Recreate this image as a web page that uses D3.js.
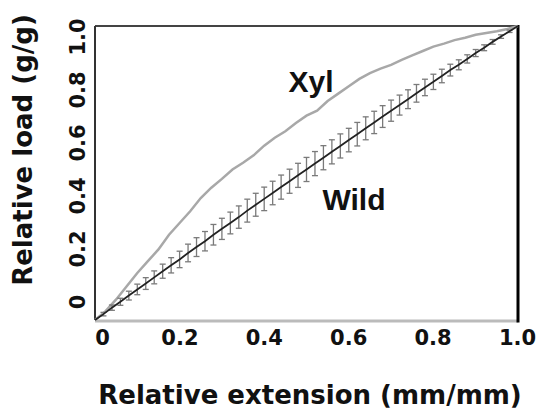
<!DOCTYPE html>
<html><head><meta charset="utf-8">
<script src="https://cdn.jsdelivr.net/npm/d3@7/dist/d3.min.js"></script>
<style>body{margin:0;background:#fff}svg{display:block}</style>
</head><body>
<script>
const xTicks = [0, 0.2, 0.4, 0.6, 0.8, 1.0];
const xTickLabels = ["0", "0.2", "0.4", "0.6", "0.8", "1.0"];
const yTicks = [0, 0.2, 0.4, 0.6, 0.8, 1.0];
const yTickLabels = ["0", "0.2", "0.4", "0.6", "0.8", "1.0"];

const xylX = [0,0.025,0.05,0.075,0.1,0.125,0.15,0.175,0.2,0.225,0.25,0.275,0.3,0.325,0.35,0.375,0.4,0.425,0.45,0.475,0.5,0.525,0.55,0.575,0.6,0.625,0.65,0.675,0.7,0.725,0.75,0.775,0.8,0.825,0.85,0.875,0.9,0.925,0.95,0.975,1.0];
const xylY = [0,0.03,0.07,0.115,0.16,0.2,0.24,0.29,0.33,0.37,0.415,0.45,0.48,0.512,0.535,0.56,0.593,0.62,0.642,0.67,0.695,0.712,0.745,0.77,0.795,0.82,0.84,0.855,0.868,0.885,0.9,0.915,0.93,0.94,0.952,0.96,0.97,0.976,0.982,0.99,1.0];

const wildX = [0,0.02,0.04,0.06,0.08,0.1,0.12,0.14,0.16,0.18,0.2,0.22,0.24,0.26,0.28,0.3,0.32,0.34,0.36,0.38,0.4,0.42,0.44,0.46,0.48,0.5,0.52,0.54,0.56,0.58,0.6,0.62,0.64,0.66,0.68,0.7,0.72,0.74,0.76,0.78,0.8,0.82,0.84,0.86,0.88,0.9,0.92,0.94,0.96,0.98,1.0];
const wildY = [0,0.02,0.042,0.062,0.083,0.104,0.124,0.145,0.166,0.186,0.206,0.228,0.248,0.268,0.29,0.31,0.33,0.35,0.372,0.392,0.412,0.432,0.452,0.472,0.492,0.512,0.532,0.552,0.572,0.592,0.612,0.632,0.652,0.672,0.692,0.712,0.731,0.751,0.771,0.791,0.81,0.83,0.85,0.868,0.888,0.908,0.926,0.946,0.964,0.982,1.0];
const wildErr = [0,0.006,0.009,0.012,0.015,0.018,0.02,0.022,0.024,0.026,0.028,0.03,0.032,0.033,0.035,0.036,0.037,0.038,0.039,0.039,0.04,0.04,0.041,0.041,0.041,0.041,0.041,0.041,0.041,0.041,0.04,0.04,0.039,0.038,0.037,0.036,0.034,0.032,0.03,0.028,0.026,0.023,0.02,0.017,0.014,0.012,0.01,0.008,0.006,0.004,0];

const W = 541, H = 409;
const svg = d3.select("body").append("svg").attr("width", W).attr("height", H);

const x = d3.scaleLinear().domain([0, 1]).range([95, 518]);
const y = d3.scaleLinear().domain([0, 1]).range([320, 26]);
// tick label positions as drawn in the original figure
const xLab = d3.scaleLinear().domain([0, 1]).range([95, 517]);
const yLab = d3.scaleLinear().domain([0, 1]).range([302, 37]);

// frame
const fr = svg.append("g");
fr.append("line").attr("x1", x(0)).attr("x2", x(1)).attr("y1", y(1)).attr("y2", y(1)).attr("stroke", "#444").attr("stroke-width", 2);
fr.append("line").attr("x1", x(0)).attr("x2", x(0)).attr("y1", y(1)).attr("y2", y(0)).attr("stroke", "#333").attr("stroke-width", 2);
fr.append("line").attr("x1", x(0)).attr("x2", x(1)).attr("y1", y(0)+1).attr("y2", y(0)+1).attr("stroke", "#bbb").attr("stroke-width", 3);
fr.append("line").attr("x1", x(1)).attr("x2", x(1)).attr("y1", y(1)-1).attr("y2", y(0)+2.5).attr("stroke", "#000").attr("stroke-width", 3);

// x tick labels
const xa = svg.append("g").attr("transform", "translate(0,330)")
  .call(d3.axisBottom(xLab).tickValues(xTicks).tickFormat((d, i) => xTickLabels[i]).tickSize(0).tickPadding(0));
xa.select(".domain").remove();
xa.selectAll("text").attr("font-family", "DejaVu Sans").attr("font-weight", "bold").attr("font-size", 21).attr("fill", "#111")
  .attr("dx", (d, i) => i === 0 ? 7 : 0);

// y tick labels (rotated)
yTicks.forEach((d, i) => {
  svg.append("text").attr("transform", `translate(78,${yLab(d)}) rotate(-90)`)
    .attr("text-anchor", "middle").attr("dominant-baseline", "central")
    .attr("font-family", "DejaVu Sans").attr("font-weight", "bold").attr("font-size", 21).attr("fill", "#111")
    .text(yTickLabels[i]);
});

// titles
svg.append("text").attr("x", 310).attr("y", 404).attr("text-anchor", "middle")
  .attr("font-family", "DejaVu Sans").attr("font-weight", "bold").attr("font-size", 26).attr("fill", "#111")
  .text("Relative extension (mm/mm)");
svg.append("text").attr("transform", "translate(23,150) rotate(-90)").attr("text-anchor", "middle").attr("dominant-baseline", "central")
  .attr("font-family", "DejaVu Sans").attr("font-weight", "bold").attr("font-size", 26).attr("fill", "#111")
  .text("Relative load (g/g)");

// Xyl curve
const xyl = xylX.map((v, i) => [v, xylY[i]]);
svg.append("path").datum(xyl).attr("fill", "none").attr("stroke", "#a8a8a8").attr("stroke-width", 2.5)
  .attr("d", d3.line().x(d => x(d[0])).y(d => y(d[1])));

// Wild error bars
const wild = wildX.map((v, i) => ({x: v, y: wildY[i], e: wildErr[i]}));
const eb = svg.append("g").attr("stroke", "#7a7a7a").attr("stroke-width", 1.3);
wild.filter(d => d.e > 0).forEach(d => {
  const cx = x(d.x);
  eb.append("line").attr("x1", cx).attr("x2", cx).attr("y1", y(d.y - d.e)).attr("y2", y(d.y + d.e));
  eb.append("line").attr("x1", cx - 3).attr("x2", cx + 3).attr("y1", y(d.y - d.e)).attr("y2", y(d.y - d.e));
  eb.append("line").attr("x1", cx - 3).attr("x2", cx + 3).attr("y1", y(d.y + d.e)).attr("y2", y(d.y + d.e));
});
svg.append("path").datum(wild).attr("fill", "none").attr("stroke", "#222").attr("stroke-width", 1.8)
  .attr("d", d3.line().x(d => x(d.x)).y(d => y(d.y)));

// labels
svg.append("text").attr("x", 311).attr("y", 92).attr("text-anchor", "middle")
  .attr("font-family", "Liberation Sans").attr("font-weight", "bold").attr("font-size", 30).attr("fill", "#111").text("Xyl");
svg.append("text").attr("x", 354).attr("y", 210).attr("text-anchor", "middle")
  .attr("font-family", "Liberation Sans").attr("font-weight", "bold").attr("font-size", 30).attr("fill", "#111").text("Wild");
</script>
</body></html>
